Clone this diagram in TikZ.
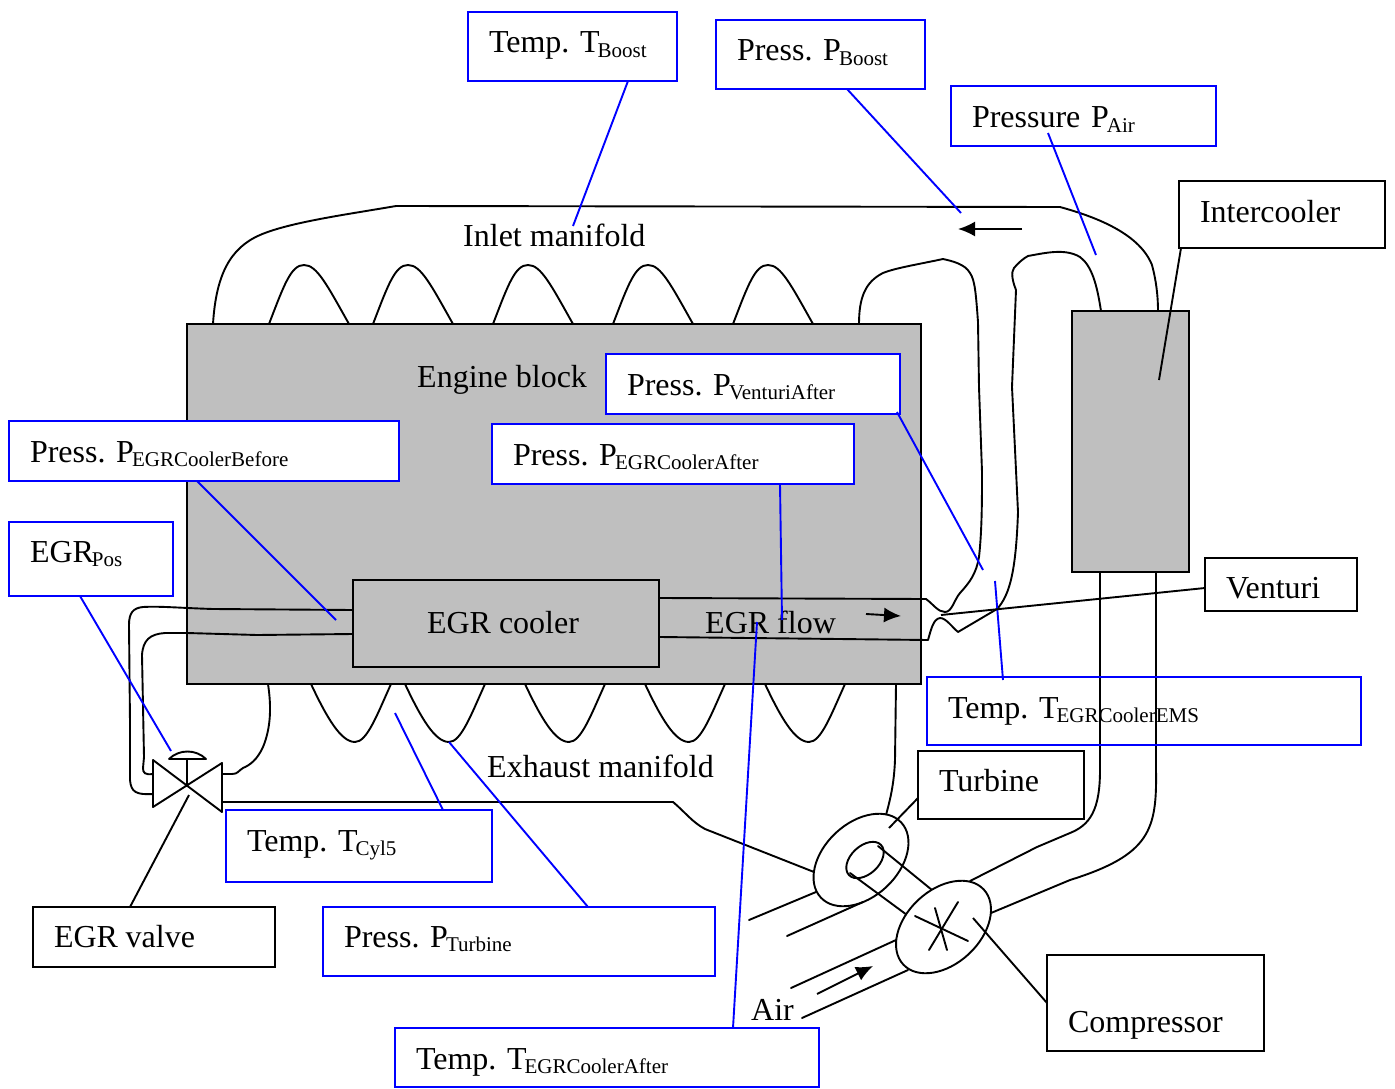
\documentclass[tikz,border=0pt]{standalone}
\usepackage{fontspec}
\setmainfont{Liberation Serif}
\usetikzlibrary{shapes.geometric,arrows.meta}
\newcommand{\sbs}[1]{\kern-2pt\raisebox{-4.5pt}{\fontsize{21}{21}\selectfont #1}}
\definecolor{blockgray}{RGB}{191,191,191}
\tikzset{
  boxbase/.style n args={3}{anchor=north west,outer sep=0pt,inner ysep=0pt,inner xsep=21pt,
    text width=#1,text height=#2,text depth=#3,align=left,line width=2pt,font=\fontsize{32}{38}\selectfont\frenchspacing},
  bluebox/.style n args={3}{boxbase={#1}{#2}{#3},draw={rgb,255:red,0;green,0;blue,255},fill=white},
  blueopen/.style n args={3}{boxbase={#1}{#2}{#3},draw={rgb,255:red,0;green,0;blue,255}},
  blackbox/.style n args={3}{boxbase={#1}{#2}{#3},draw=black,fill=white},
  plain/.style={anchor=base west,inner sep=0pt,font=\fontsize{32}{38}\selectfont\frenchspacing},
  pipe/.style={draw=black,line width=1.9pt,line cap=round,line join=round},
  leader/.style={draw=black,line width=1.9pt},
  bluelead/.style={draw={rgb,255:red,0;green,0;blue,255},line width=1.9pt},
  flowarrow/.style={draw=black,line width=1.9pt,-{Latex[length=17pt,width=15pt]}},
  gray block/.style={draw=black,fill=blockgray,line width=2pt,anchor=north west,outer sep=0pt,inner sep=0pt},
  disc/.style={draw=black,fill=white,line width=1.9pt,ellipse,inner sep=0pt,rotate=43,outer sep=0pt},
}
\begin{document}
\begin{tikzpicture}[x=1pt,y=-1pt]
\useasboundingbox (0,0) rectangle (1395,1089);

% engine block and humps
\node[gray block,minimum width=734pt,minimum height=360pt] (block) at (187,324) {};
\foreach \s in {269,373,493,613,733}
  \draw[pipe] (\s,324) .. controls ({\s+15},{285}) and ({\s+22},265) .. ({\s+35},265)
     .. controls ({\s+48},265) and ({\s+58},285) .. ({\s+80},324);
\foreach \s in {311,405,525,645,765}
  \draw[pipe] (\s,684) .. controls ({\s+16},718) and ({\s+30},742) .. ({\s+44},742)
     .. controls ({\s+56},742) and ({\s+66},715) .. ({\s+80},684);

% top manifold pipe
\draw[pipe] (213,324) .. controls (216,275) and (230,248) .. (260,235)
  .. controls (290,222) and (350,214) .. (396,206) -- (1060,207)
  .. controls (1100,218) and (1140,235) .. (1152,265) .. controls (1156,280) and (1158,295) .. (1158,311);

% EGR cooler and intercooler
\node[gray block,minimum width=306pt,minimum height=87pt,align=center,font=\fontsize{32}{38}\selectfont,text height=53pt,text depth=34pt] (cooler) at (353,580) {EGR cooler\hspace*{6pt}};
\node[gray block,minimum width=117pt,minimum height=261pt] (inter) at (1072,311) {};

% right EGR pipes
\draw[pipe] (660,598) -- (926,599) .. controls (933,604) and (938,612) .. (945,612)
  .. controls (952,612) and (954,600) .. (960,593) .. controls (970,582) and (976,574) .. (979,557)
  .. controls (982,530) and (982,500) .. (982,472) -- (979,387) -- (978,322)
  .. controls (976,295) and (975,280) .. (970,273) .. controls (965,264) and (952,261) .. (943,259)
  .. controls (920,264) and (895,268) .. (883,273) .. controls (865,282) and (859,298) .. (859,324);
\draw[pipe] (660,637) -- (928,640) .. controls (931,630) and (933,619) .. (940,618)
  .. controls (946,618) and (952,627) .. (958,632) -- (997,609)
  .. controls (1010,595) and (1016,570) .. (1018,512) -- (1012,387) -- (1016,290)
  .. controls (1012,280) and (1011,272) .. (1014,268) .. controls (1018,263) and (1024,258) .. (1028,256)
  .. controls (1045,253) and (1065,248) .. (1080,257) .. controls (1092,266) and (1097,285) .. (1101,311);

% left EGR pipes
\draw[pipe] (353,610) -- (213,609) .. controls (180,608) and (160,606) .. (143,607)
  .. controls (133,608) and (129,613) .. (129,625) -- (130,723) -- (130,780)
  .. controls (131,792) and (136,795) .. (153,794);
\draw[pipe] (353,634) -- (257,635) -- (187,633) -- (165,633)
  .. controls (150,634) and (143,640) .. (142,655) -- (144,757) -- (143,768)
  .. controls (143,773) and (145,775) .. (153,774);
\draw[pipe] (268,684) .. controls (272,710) and (270,730) .. (263,747)
  .. controls (257,760) and (250,765) .. (243,768) .. controls (238,771) and (238,774) .. (232,774) -- (222,774);

% valve
\draw[pipe] (153,760) -- (222,812) -- (222,763) -- (153,807) -- cycle;
\draw[pipe] (187,786) -- (187,760);
\draw[pipe] (169,759) -- (206,759) .. controls (196,749) and (179,749) .. (169,759);

% exhaust line to turbine
\draw[pipe] (222,802) -- (673,802) .. controls (685,812) and (692,822) .. (705,829) -- (814,872);
\draw[pipe] (896,684) -- (895,760) .. controls (894,785) and (890,800) .. (886,815);

% intercooler lower pipes
\draw[pipe] (1100,572) -- (1100,770) .. controls (1100,810) and (1090,825) .. (1070,833) -- (1037,847) -- (970,881);
\draw[pipe] (1156,572) -- (1156,770) .. controls (1157,830) and (1150,855) .. (1070,880) -- (991,913);

% turbine and compressor
\node[disc,minimum width=110pt,minimum height=74pt] (turbine) at (861,860) {};
\node[disc,minimum width=44pt,minimum height=28pt] (shaft) at (865,860) {};
\draw[pipe] (878,846) -- (932,890);
\draw[pipe] (850,873) -- (907,915);
\node[disc,minimum width=110pt,minimum height=74pt] (compressor) at (943.5,927) {};
\draw[pipe] (915,916) -- (968,941);
\draw[pipe] (958,902) -- (929,950);
\draw[pipe] (935,908) -- (947,950);
\draw[pipe] (816,892) -- (749,920);
\draw[pipe] (863,902) -- (787,936);
\draw[pipe] (896,940) -- (791,988);
\draw[pipe] (908,970) -- (802,1018);

% flow arrows
\coordinate (a1s) at (1022,229); \coordinate (a1e) at (958,229);
\coordinate (a2s) at (866,614); \coordinate (a2e) at (901,616);
\coordinate (a3s) at (817,994); \coordinate (a3e) at (873,966);
\draw[flowarrow] (a1s) -- (a1e);
\draw[flowarrow] (a2s) -- (a2e);
\draw[flowarrow] (a3s) -- (a3e);

% plain labels
\node[plain] (inlet) at (463,246) {Inlet manifold};
\node[plain] (engine) at (417,387) {Engine block};
\node[plain] (flow) at (705,633) {EGR flow};
\node[plain] (exhaust) at (487,777) {Exhaust manifold};
\node[plain] (air) at (751,1020) {Air};

% boxes
\node[bluebox={167pt}{41pt}{28pt}] (tb) at (468,12) {Temp. T\sbs{Boost}};
\node[bluebox={167pt}{41pt}{28pt}] (pb) at (716,20) {Press. P\sbs{Boost}};
\node[bluebox={223pt}{42pt}{18pt}] (pa) at (951,86) {Pressure P\sbs{Air}};
\node[blackbox={164pt}{41pt}{26pt}] (ic) at (1179,181) {Intercooler};
\node[bluebox={252pt}{41pt}{19pt}] (pv) at (606,354) {Press. P\sbs{VenturiAfter}};
\node[bluebox={320pt}{41pt}{19pt}] (pca) at (492,424) {Press. P\sbs{EGRCoolerAfter}};
\node[bluebox={348pt}{41pt}{19pt}] (pcb) at (9,421) {Press. P\sbs{EGRCoolerBefore}};
\node[bluebox={122pt}{40pt}{34pt}] (ep) at (9,522) {EGR\sbs{Pos}};
\node[blackbox={110pt}{40pt}{13pt}] (vn) at (1205,558) {Venturi};
\node[blueopen={392pt}{41pt}{27pt}] (ems) at (927,677) {Temp. T\sbs{EGRCoolerEMS}};
\node[blackbox={124pt}{40pt}{28pt}] (tu) at (918,751) {Turbine};
\node[bluebox={224pt}{41pt}{31pt}] (cy) at (226,810) {Temp. T\sbs{Cyl5}};
\node[blackbox={200pt}{40pt}{20pt}] (ev) at (33,907) {EGR\hspace{-3pt} valve};
\node[bluebox={350pt}{40pt}{29pt}] (pt) at (323,907) {Press. P\sbs{Turbine}};
\node[bluebox={382pt}{41pt}{18pt}] (tca) at (395,1028) {Temp. T\sbs{EGRCoolerAfter}};
\node[blackbox={175pt}{77pt}{19pt}] (co) at (1047,955) {Compressor};

% target points of the leaders
\coordinate (t1) at (573,226);
\coordinate (t2) at (961,213);
\coordinate (t3) at (1096,255);
\coordinate (t4) at (983,570);
\coordinate (t5) at (782,620);
\coordinate (t6) at (336,620);
\coordinate (t7) at (171,751);
\coordinate (t8) at (995,581);
\coordinate (t9) at (395,713);
\coordinate (t10) at (449,742);
\coordinate (t11) at (757,622);
\coordinate (k1) at (1159,380);
\coordinate (k2) at (941,615);
\coordinate (k3) at (889,828);
\coordinate (k4) at (973,918);
\coordinate (k5) at (189,795);

% blue leaders
\draw[bluelead] (tb.south west) ++(160,0) -- (t1);
\draw[bluelead] (pb.south west) ++(131,0) -- (t2);
\draw[bluelead] (pa.south west) ++(97,-13) -- (t3);
\draw[bluelead] (pv.south east) ++(-3,-2) -- (t4);
\draw[bluelead] (pca.south west) ++(288,0) -- (t5);
\draw[bluelead] (pcb.south west) ++(188,0) -- (t6);
\draw[bluelead] (ep.south west) ++(71,0) -- (t7);
\draw[bluelead] (ems.north west) ++(76,3) -- (t8);
\draw[bluelead] (cy.north west) ++(217,0) -- (t9);
\draw[bluelead] (pt.north west) ++(265,0) -- (t10);
\draw[bluelead] (tca.north west) ++(338,0) -- (t11);

% black leaders
\draw[leader] (ic.south west) ++(2,0) -- (k1);
\draw[leader] (vn.north west) ++(0,30) -- (k2);
\draw[leader] (tu.north west) ++(0,47) -- (k3);
\draw[leader] (co.north west) ++(0,48) -- (k4);
\draw[leader] (ev.north west) ++(97,0) -- (k5);
\end{tikzpicture}
\end{document}
